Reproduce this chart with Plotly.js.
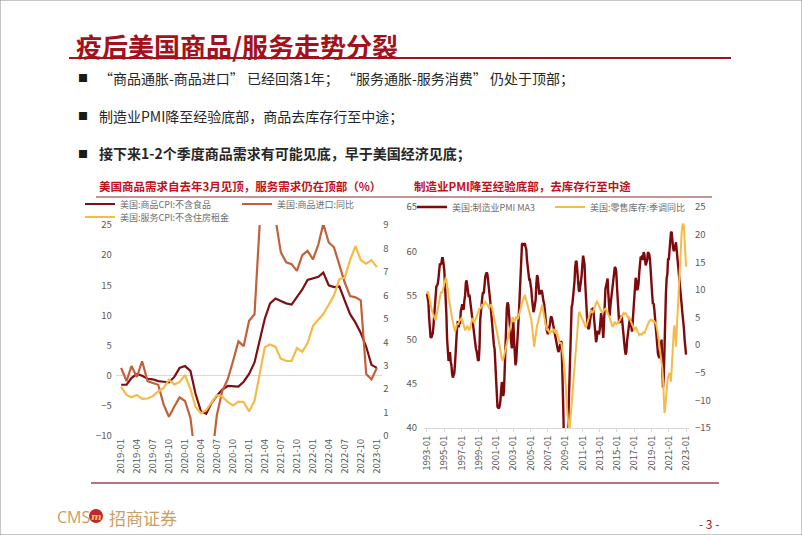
<!DOCTYPE html>
<html>
<head>
<meta charset="utf-8">
<script src="https://cdn.plot.ly/plotly-3.0.1.min.js"></script>
<style>
  html, body { margin: 0; padding: 0; background: #fff; }
  #chart { width: 802px; height: 535px; }
</style>
</head>
<body>
<div id="chart"></div>
<script>
// left chart: monthly, 2019-01 .. 2023-01
const goodsCpi = [-1.5, -1.5, -0.4, 0.3, 0.0, -0.5, -0.6, -0.9, -1.0, -1.1, -0.2, 1.3,
    1.6, 0.8, -3.0, -5.9, -6.3, -4.5, -3.3, -2.3, -1.7, -1.8, -1.8, -1.0,
    0.3, 2.2, 5.5, 9.5, 12.0, 12.8, 12.4, 12.0, 11.8, 13.0, 14.3, 15.9,
    16.1, 16.4, 17.1, 15.0, 14.7, 14.8, 12.5, 10.2, 8.8, 7.1, 4.8, 1.8,
    1.3];
const goodsImport = [1.3, -0.9, 1.6, -0.2, 2.4, -0.9, -1.2, -1.5, -4.8, -6.8, -5.1, -3.6,
    -4.2, -7.0, -14, -20, -22, -14, -6.5, -2.5, -0.6, 2.4, 5.7, 4.9,
    9.1, 10.2, 28, 40, 35, 26, 20.5, 18.8, 18.5, 17.4, 20.0, 20.7,
    19.3, 21.8, 25.2, 22.1, 21.3, 18.2, 15.5, 13.2, 13.0, 12.5, 0.3, -0.6,
    1.3];
const servCpi = [2.1, 1.75, 1.65, 1.75, 1.58, 1.6, 1.7, 1.9, 2.05, 2.4, 2.2, 2.3,
    2.6, 2.0, 1.25, 0.97, 1.1, 1.45, 1.75, 1.68, 1.45, 1.3, 1.47, 1.45,
    1.05, 1.5, 2.6, 3.8, 3.9, 3.8, 3.3, 3.2, 3.2, 3.75, 3.6, 3.95,
    4.7, 4.95, 5.2, 5.6, 6.0, 6.7, 6.75, 7.5, 8.1, 7.5, 7.35, 7.5,
    7.2];

// right chart: monthly, 1993-01 .. 2023-01
const pmiMa3 = [
    55.2, 54.8, 54.2, 52.5, 51.2, 50.3, 50.2, 50.4, 50.7, 51.5, 52.6, 54.2,
    55.2, 56.0, 56.1, 56.3, 56.9, 57.9, 58.6, 58.5, 58.6, 59.2, 59.2, 58.6,
    57.9, 56.3, 54.9, 52.9, 50.1, 48.1, 47.6, 47.9, 48.6, 47.5, 47.1, 46.1,
    45.7, 46.0, 46.2, 47.3, 48.9, 51.2, 51.6, 52.1, 51.4, 51.9, 51.9, 53.2,
    53.9, 54.0, 53.5, 53.4, 54.4, 55.0, 56.4, 56.7, 56.1, 55.4, 54.8, 55.1,
    54.4, 53.3, 52.7, 52.3, 51.7, 50.5, 49.7, 49.2, 49.0, 48.7, 48.1, 47.6,
    47.7, 49.2, 52.2, 52.8, 54.0, 54.9, 55.4, 55.2, 56.6, 57.1, 57.4, 57.6,
    57.4, 56.8, 55.8, 55.1, 54.3, 53.1, 52.3, 51.0, 50.6, 49.4, 48.9, 46.9,
    44.9, 43.0, 42.4, 42.3, 42.2, 42.5, 43.0, 44.2, 45.2, 44.6, 43.6, 44.2,
    46.8, 49.5, 52.1, 53.6, 54.2, 54.0, 52.9, 51.4, 50.2, 49.7, 49.0, 50.2,
    52.0, 50.0, 47.3, 47.1, 47.5, 48.6, 50.1, 51.8, 53.4, 55.1, 57.8, 60.0,
    60.8, 60.9, 60.6, 60.8, 60.9, 60.5, 60.2, 59.0, 58.2, 57.2, 56.8, 56.8,
    56.4, 55.6, 54.6, 53.6, 53.1, 53.4, 54.0, 54.5, 56.3, 57.3, 57.0, 55.8,
    55.2, 55.2, 55.4, 55.6, 55.4, 54.6, 54.3, 54.0, 53.3, 52.2, 51.2, 50.6,
    50.6, 50.9, 51.2, 51.8, 52.5, 52.6, 52.3, 51.8, 51.3, 50.8, 50.4, 50.0,
    49.3, 49.0, 48.8, 48.6, 48.9, 49.3, 49.8, 49.7, 47.6, 43.5, 39.8, 36.0,
    35.0, 34.8, 35.9, 37.4, 39.7, 42.6, 45.5, 48.8, 51.4, 53.7, 54.0, 54.7,
    55.6, 56.6, 58.2, 58.9, 58.8, 57.4, 56.0, 55.6, 55.4, 55.9, 56.3, 57.3,
    58.6, 59.5, 59.0, 58.5, 56.3, 54.6, 52.9, 51.7, 51.3, 51.2, 51.8, 52.6,
    53.5, 53.5, 53.4, 53.6, 52.6, 51.2, 49.7, 49.7, 50.2, 51.0, 50.8, 50.6,
    51.1, 52.7, 53.0, 52.4, 50.3, 50.2, 51.8, 54.0, 55.8, 56.1, 56.6, 56.9,
    55.2, 53.8, 52.7, 53.9, 54.7, 55.2, 55.9, 57.1, 57.6, 58.2, 58.1, 57.7,
    56.0, 54.0, 52.6, 52.0, 51.9, 52.6, 52.7, 52.4, 51.3, 50.5, 49.6, 48.9,
    48.3, 48.6, 49.8, 50.7, 51.3, 51.8, 52.4, 51.7, 51.2, 50.9, 52.2, 53.3,
    54.6, 56.1, 57.0, 56.6, 55.6, 55.8, 56.3, 57.6, 58.6, 59.4, 59.2, 59.5,
    59.0, 59.9, 59.7, 59.1, 58.4, 58.7, 59.0, 59.9, 59.7, 59.6, 58.9, 57.0,
    56.7, 55.0, 54.0, 54.1, 53.4, 52.2, 51.7, 50.7, 49.4, 48.4, 48.1, 47.9,
    48.7, 49.4, 50.0, 46.9, 44.6, 45.7, 50.0, 54.3, 55.2, 56.9, 57.4, 59.2,
    59.0, 60.1, 61.4, 62.1, 62.2, 60.8, 60.4, 60.0, 60.2, 60.6, 61.0, 60.2,
    59.2, 58.3, 57.8, 57.0, 56.2, 54.8, 53.9, 52.9, 52.2, 51.3, 50.0, 49.2,
    48.3];
const retailInv = [
    9.2, 9.7, 9.4, 8.6, 7.8, 7.2, 6.7, 6.2, 5.8, 5.4, 5.0, 4.6,
    4.5, 5.2, 5.9, 6.8, 7.3, 7.7, 8.5, 9.3, 9.7, 9.4, 9.9, 10.5,
    11.0, 11.6, 12.1, 12.0, 11.3, 10.1, 8.9, 7.8, 7.3, 6.6, 5.6, 4.8,
    4.1, 3.2, 2.6, 2.4, 2.9, 3.5, 3.9, 3.7, 3.9, 4.3, 4.6, 4.9,
    4.9, 4.6, 4.2, 3.6, 3.1, 2.7, 2.9, 3.3, 3.5, 3.2, 2.9, 2.7,
    3.1, 3.7, 4.5, 4.9, 4.6, 4.2, 4.0, 4.4, 4.8, 5.3, 5.9, 6.3,
    6.4, 6.7, 6.5, 6.9, 7.2, 7.4, 7.1, 7.3, 7.6, 7.8, 7.6, 7.5,
    7.3, 7.1, 6.8, 6.9, 7.2, 7.4, 7.0, 6.4, 5.8, 5.1, 4.5, 4.0,
    3.6, 3.0, 2.2, 1.3, 0.5, -0.4, -1.2, -1.9, -2.4, -2.7, -2.6, -2.0,
    -1.4, -0.8, -0.3, 0.3, 0.9, 1.5, 2.1, 2.8, 3.5, 4.2, 4.8, 5.1,
    4.7, 4.2, 4.5, 4.9, 5.2, 4.9, 4.7, 5.0, 5.6, 6.2, 6.8, 7.3,
    7.6, 7.9, 8.3, 8.8, 9.1, 8.6, 8.1, 7.7, 7.2, 6.6, 6.1, 5.5,
    5.3, 4.6, 3.5, 2.2, 1.0, -0.3, 0.8, 2.1, 3.2, 3.6, 4.0, 4.5,
    5.1, 5.8, 6.4, 7.0, 7.3, 6.6, 5.9, 5.1, 4.2, 3.4, 3.0, 2.8,
    3.0, 2.6, 2.3, 2.1, 2.4, 2.6, 2.3, 2.5, 2.9, 2.7, 2.4, 2.1,
    2.7, 2.0, 1.4, 0.9, 0.6, 0.3, 0.5, 0.2, -0.6, -1.8, -3.0, -4.2,
    -5.7, -7.8, -10.2, -12.5, -14.3, -15.3, -15.6, -14.0, -12.4, -10.8, -9.2, -7.6,
    -6.0, -4.2, -2.5, -0.8, 1.0, 2.8, 4.4, 5.8, 5.9, 5.6, 5.5, 5.2,
    5.0, 4.6, 4.2, 3.8, 3.4, 3.3, 3.6, 4.2, 4.8, 5.2, 5.6, 6.0,
    6.2, 6.0, 5.8, 6.1, 6.6, 7.0, 7.4, 7.6, 7.9, 7.8, 7.4, 7.0,
    6.8, 6.5, 6.2, 6.0, 5.8, 6.1, 6.4, 6.5, 6.6, 6.5, 6.1, 5.8,
    5.6, 5.5, 5.0, 4.5, 4.0, 3.6, 3.3, 3.5, 3.9, 4.2, 4.0, 3.8,
    3.9, 4.1, 4.0, 4.2, 4.5, 4.8, 5.1, 5.4, 5.7, 5.8, 5.6, 5.8,
    5.8, 5.6, 5.3, 5.0, 5.1, 5.0, 4.8, 4.4, 4.0, 3.6, 3.3, 3.0,
    2.8, 2.9, 3.3, 3.0, 2.6, 2.2, 1.9, 1.8, 1.9, 2.1, 1.8, 2.0,
    2.2, 2.4, 2.1, 2.5, 2.8, 3.1, 3.5, 3.8, 4.1, 4.3, 4.5, 4.6,
    4.5, 4.4, 4.5, 4.2, 4.3, 4.0, 4.2, 3.6, 2.8, 2.0, 1.0, 0.0,
    -0.5, -1.5, -2.6, -4.2, -6.0, -9.0, -12.3, -11.5, -9.5, -7.5, -6.6, -5.8,
    -5.5, -5.0, -5.8, -6.6, -4.5, -1.5, 1.0, 2.8, 3.6, 1.5, -0.3, 2.5,
    5.5, 8.0, 10.5, 13.3, 15.8, 18.5, 20.5, 21.7, 22.0, 21.5, 18.5, 16.0,
    14.2];

const bullets = [
    '“商品通胀-商品进口” 已经回落1年； “服务通胀-服务消费” 仍处于顶部；',
    '制造业PMI降至经验底部，商品去库存行至中途；',
    '<b>接下来1-2个季度商品需求有可能见底，早于美国经济见底；</b>'
];

const months = (y0, n) => Array.from({length: n}, (_, i) => {
    const y = y0 + Math.floor(i / 12), m = i % 12 + 1;
    return `${y}-${String(m).padStart(2, '0')}-01`;
});
const xLeft = months(2019, goodsCpi.length);
const xRight = months(1993, pmiMa3.length);

const W = 802, H = 535;
const px = x => x / W;
const py = y => 1 - y / H;

const FONT = 'Noto Sans CJK SC, sans-serif';
const RED = '#A3111B';
const tickFont = {family: FONT, size: 9.5, color: '#595959'};

const traces = [{
    x: xLeft, y: goodsCpi, type: 'scatter', mode: 'lines',
    name: '美国:商品CPI:不含食品', line: {color: '#7E0F12', width: 2.2},
    xaxis: 'x', yaxis: 'y', legend: 'legend'
}, {
    x: xLeft, y: goodsImport, type: 'scatter', mode: 'lines',
    name: '美国:商品进口:同比', line: {color: '#C2603B', width: 2.2},
    xaxis: 'x', yaxis: 'y', legend: 'legend'
}, {
    x: xLeft, y: servCpi, type: 'scatter', mode: 'lines',
    name: '美国:服务CPI:不含住房租金', line: {color: '#F6BA48', width: 2.2},
    xaxis: 'x', yaxis: 'y2', legend: 'legend2'
}, {
    x: xRight, y: pmiMa3, type: 'scatter', mode: 'lines',
    name: '美国:制造业PMI MA3', line: {color: '#7D0A0C', width: 2.4},
    xaxis: 'x2', yaxis: 'y3', legend: 'legend3'
}, {
    x: xRight, y: retailInv, type: 'scatter', mode: 'lines',
    name: '美国:零售库存:季调同比', line: {color: '#F6BA48', width: 2},
    xaxis: 'x2', yaxis: 'y4', legend: 'legend3'
}];

const legendBase = {
    orientation: 'h', xanchor: 'left', yanchor: 'middle',
    font: {family: FONT, size: 9, color: '#6e6e6e'},
    bgcolor: 'rgba(0,0,0,0)', itemwidth: 30, tracegroupgap: 0
};

const annotations = [
    {x: px(74), y: py(45), text: '<b>疫后美国商品/服务走势分裂</b>',
     font: {family: FONT, size: 26, color: RED}},
    {x: px(97), y: py(186), text: '<b>美国商品需求自去年3月见顶，服务需求仍在顶部（%）</b>',
     font: {family: FONT, size: 11.5, color: '#C0101A'}},
    {x: px(412), y: py(186), text: '<b>制造业PMI降至经验底部，去库存行至中途</b>',
     font: {family: FONT, size: 11.5, color: '#C0101A'}},
    {x: px(55), y: py(517), text: 'CMS',
     font: {family: 'Open Sans, sans-serif', size: 16, color: '#C9A063'}},
    {x: px(96), y: py(516), text: '<i><b>m</b></i>', xanchor: 'center',
     font: {family: 'DejaVu Serif, serif', size: 10, color: '#F4C95A'}},
    {x: px(107), y: py(517), text: '招商证券',
     font: {family: FONT, size: 17, color: '#C9A063'}},
    {x: px(697), y: py(523), text: '- 3 -',
     font: {family: FONT, size: 12, color: RED}}
];
bullets.forEach((t, i) => {
    const yy = 78 + i * 37.5;
    annotations.push({x: px(76), y: py(yy), text: '■',
        font: {family: FONT, size: 10, color: '#1a1a1a'}});
    annotations.push({x: px(97), y: py(yy), text: t,
        font: {family: FONT, size: 14, color: '#262626'}});
});
annotations.forEach(a => {
    a.xref = 'paper'; a.yref = 'paper'; a.showarrow = false;
    a.xanchor = a.xanchor || 'left'; a.yanchor = 'middle';
});

const line = (x0, y0, x1, y1, color, width) => ({
    type: 'line', xref: 'paper', yref: 'paper',
    x0: px(x0), y0: py(y0), x1: px(x1), y1: py(y1),
    line: {color, width}
});

const layout = {
    width: W, height: H,
    margin: {l: 0, r: 0, t: 0, b: 0},
    paper_bgcolor: '#fff', plot_bgcolor: 'rgba(0,0,0,0)',
    font: {family: FONT},
    showlegend: true,
    legend: Object.assign({x: px(80), y: py(204), entrywidth: 112}, legendBase),
    legend2: Object.assign({x: px(80), y: py(217)}, legendBase),
    legend3: Object.assign({x: px(412), y: py(207), entrywidth: 93}, legendBase),
    xaxis: {
        type: 'date', domain: [px(115.7), px(382.3)], anchor: 'y',
        range: ['2018-12-01', '2023-02-01'],
        tick0: '2019-01-01', dtick: 'M3', tickformat: '%Y-%m', tickangle: -90,
        tickfont: tickFont, showgrid: false, zeroline: false, showline: false, ticks: ''
    },
    yaxis: {
        domain: [py(436), py(225)], anchor: 'x', range: [-10, 25], dtick: 5,
        tickfont: tickFont, showgrid: false, showline: false, ticks: '',
        ticklabelstandoff: 3,
        zeroline: true, zerolinecolor: '#d9d9d9', zerolinewidth: 1
    },
    yaxis2: {
        overlaying: 'y', side: 'right', anchor: 'x', range: [0, 9], dtick: 1,
        tickfont: tickFont, showgrid: false, zeroline: false, showline: false, ticks: ''
    },
    xaxis2: {
        type: 'date', domain: [px(424.1), px(688.9)], anchor: 'y3',
        range: ['1992-09-01', '2023-05-01'],
        tick0: '1993-01-01', dtick: 'M24', tickformat: '%Y-%m', tickangle: -90,
        tickfont: tickFont, showgrid: false, zeroline: false,
        showline: true, linecolor: '#d9d9d9', linewidth: 1,
        ticks: 'outside', ticklen: 3, tickcolor: '#d9d9d9'
    },
    yaxis3: {
        domain: [py(428), py(207)], anchor: 'x2', range: [40, 65], dtick: 5,
        tickfont: tickFont, showgrid: false, zeroline: false, showline: false, ticks: '',
        ticklabelstandoff: 6
    },
    yaxis4: {
        overlaying: 'y3', side: 'right', anchor: 'x2', range: [-15, 25], dtick: 5,
        tickfont: tickFont, showgrid: false, zeroline: false, showline: false, ticks: '',
        ticklabelstandoff: 5
    },
    shapes: [
        {type: 'rect', xref: 'paper', yref: 'paper', x0: 0, y0: 0, x1: 1, y1: 1,
         line: {color: '#8c8c8c', width: 1}},
        line(69, 58, 731, 58, RED, 2),
        line(96, 197, 712, 197, '#8B2A2A', 1),
        line(91, 483, 719, 483, '#B4737D', 2),
        {type: 'circle', xref: 'paper', yref: 'paper',
         x0: px(89), y0: py(509), x1: px(103), y1: py(523),
         fillcolor: '#C0282D', line: {width: 0}}
    ],
    annotations
};

Plotly.newPlot('chart', traces, layout, {displayModeBar: false, staticPlot: true});
</script>
</body>
</html>
